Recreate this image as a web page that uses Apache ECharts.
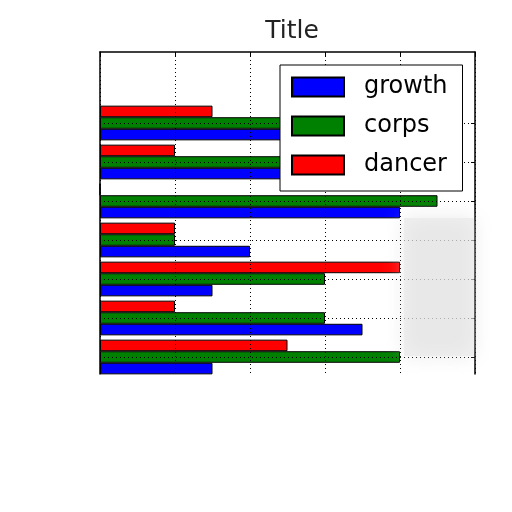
<!DOCTYPE html>
<html>
<head>
<meta charset="utf-8">
<script src="https://cdn.jsdelivr.net/npm/echarts@6/dist/echarts.min.js"></script>
<style>
  html, body { margin: 0; padding: 0; background: #fff; }
  #chart { width: 512px; height: 512px; }
</style>
</head>
<body>
<div id="chart"></div>
<script>
// Groups listed top to bottom
const categories = ['6', '5', '4', '3', '2', '1', '0'];
const growth = [3, 3.5, 4, 2, 1.5, 3.5, 1.5];
const corps  = [4, 3, 4.5, 1, 3, 3, 4];
const dancer = [1.5, 1, 0, 1, 4, 1, 2.5];
const xTicks = [0, 1, 2, 3, 4, 5];

const chart = echarts.init(document.getElementById('chart'), null, { renderer: 'canvas' });
const dotted = { color: '#000', width: 1, type: [1, 3] };
const font = 'DejaVu Sans';

function barSeries(name, data, color) {
  return {
    name: name, type: 'bar', xAxisIndex: 1, yAxisIndex: 2, data: data,
    barGap: '0%', barCategoryGap: '11%', clip: false,
    itemStyle: { color: color, borderColor: '#000', borderWidth: 1 },
    z: 2
  };
}

chart.setOption({
  animation: false,
  backgroundColor: '#fff',
  title: {
    text: 'Title', left: 287, top: 14, textAlign: 'center',
    textStyle: { fontFamily: font, fontSize: 25, fontWeight: 'normal', color: '#222' }
  },
  legend: {
    orient: 'vertical', left: 280, top: 65,
    data: ['growth', 'corps', 'dancer'],
    backgroundColor: '#fff', borderColor: '#000', borderWidth: 1, borderRadius: 0,
    padding: [10, 15, 14, 11],
    itemWidth: 52, itemHeight: 19, itemGap: 15,
    icon: 'rect',
    textStyle: { fontFamily: font, fontSize: 24, color: '#000', padding: [0, 0, 0, 15] },
    z: 10
  },
  grid: [
    { left: 100, right: 37, top: 52, bottom: 138 },
    { left: 100, right: 37, top: 123, bottom: 155 }
  ],
  graphic: [{
    type: 'rect', left: 404, top: 218, z: 8, silent: true,
    shape: { width: 70, height: 138 },
    style: { fill: 'rgba(230,230,230,0.55)', shadowBlur: 18, shadowColor: 'rgba(215,215,215,0.9)' }
  }],
  xAxis: [
    {
      gridIndex: 0, type: 'value', position: 'top',
      min: xTicks[0], max: xTicks[xTicks.length - 1], interval: 1,
      axisLine: { show: true, onZero: false, lineStyle: { color: '#000', width: 1.5 } },
      axisTick: { show: true, inside: true, length: 4, lineStyle: { color: '#000' } },
      axisLabel: { show: false },
      splitLine: { show: true, lineStyle: dotted },
      z: 5
    },
    {
      gridIndex: 1, type: 'value', position: 'bottom',
      min: xTicks[0], max: xTicks[xTicks.length - 1], interval: 1,
      axisLine: { show: false, onZero: false }, axisTick: { show: false },
      axisLabel: { show: false }, splitLine: { show: false }
    }
  ],
  yAxis: [
    {
      gridIndex: 0, type: 'value', position: 'left', min: 0, max: 1,
      axisLine: { show: true, onZero: false, lineStyle: { color: '#000', width: 1.5 } },
      axisTick: { show: false }, axisLabel: { show: false }, splitLine: { show: false },
      z: 5
    },
    {
      gridIndex: 0, type: 'value', position: 'right', min: 0, max: 1,
      axisLine: { show: true, onZero: false, lineStyle: { color: '#000', width: 1.5 } },
      axisTick: { show: false }, axisLabel: { show: false }, splitLine: { show: false },
      z: 5
    },
    {
      gridIndex: 1, type: 'category', position: 'right', inverse: true,
      boundaryGap: false, data: categories,
      axisLine: { show: false, onZero: false },
      axisTick: { show: true, inside: true, length: 4, lineStyle: { color: '#000' } },
      axisLabel: { show: false },
      splitLine: { show: true, lineStyle: dotted },
      z: 5
    }
  ],
  series: [
    barSeries('dancer', dancer, '#ff0000'),
    barSeries('corps', corps, '#008000'),
    barSeries('growth', growth, '#0000ff')
  ]
});
</script>
</body>
</html>
